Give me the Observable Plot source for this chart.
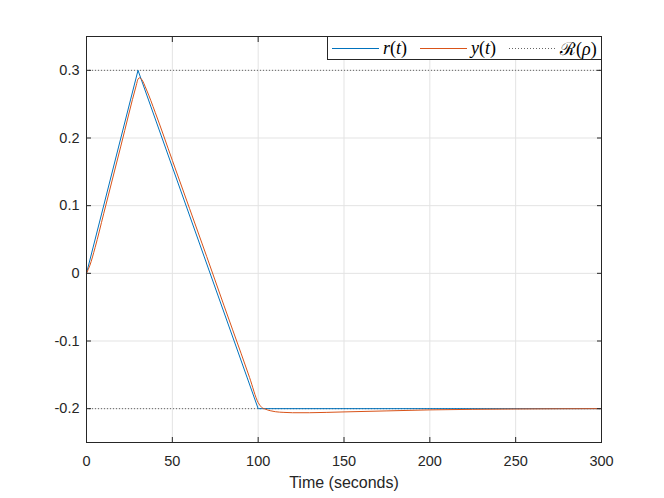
<!DOCTYPE html>
<html>
<head>
<meta charset="utf-8">
<script src="https://cdn.jsdelivr.net/npm/d3@7"></script>
<script src="https://cdn.jsdelivr.net/npm/@observablehq/plot@0.6"></script>
<style>
  html, body { margin: 0; padding: 0; background: #fff; }
  #wrap { position: relative; width: 664px; height: 498px; }
  #legend {
    position: absolute; left: 327px; top: 36px; width: 275px; height: 24px;
    border: 1px solid #262626; background: #fff; box-sizing: border-box;
    font-family: "Liberation Serif", "DejaVu Serif", serif; font-size: 18px; color: #000;
  }
  #legend .item { position: absolute; top: 0; height: 22px; display: flex; align-items: center; white-space: nowrap; }
  #legend svg { display: block; flex: none; }
  #legend .lbl { margin-left: 4px; white-space: nowrap; flex: none; }
</style>
</head>
<body>
<div id="wrap"></div>
<script>
// Reference r(t)
const rTime = [0, 30, 100, 300];
const rValue = [0, 0.3, -0.2, -0.2];
// Output y(t)
const yTime = [0, 2, 5, 10, 20, 29, 30, 31, 32, 35, 40, 50, 60, 70, 80, 90, 95, 100, 101, 102, 104, 107, 110, 115, 120, 130, 140, 150, 175, 200, 225, 250, 300];
const yValue = [0, 0.012, 0.038, 0.088, 0.188, 0.278, 0.287, 0.289, 0.287, 0.271, 0.238, 0.167, 0.096, 0.025, -0.047, -0.118, -0.154, -0.191, -0.195, -0.198, -0.2005, -0.203, -0.2045, -0.2055, -0.206, -0.206, -0.2055, -0.2048, -0.2033, -0.2018, -0.201, -0.2005, -0.2];
// Bounds R(rho)
const bounds = [0.3, -0.2];
const xTicks = [0, 50, 100, 150, 200, 250, 300];
const yTicks = [-0.2, -0.1, 0, 0.1, 0.2, 0.3];
const legendLabels = ["<i>r</i>(<i>t</i>)", "<i>y</i>(<i>t</i>)", "ℛ(<i>ρ</i>)"];

const rData = rTime.map((t, i) => ({t, v: rValue[i]}));
const yData = yTime.map((t, i) => ({t, v: yValue[i]}));

const blue = "#0072BD", orange = "#D95319", ink = "#262626", grid = "#e3e3e3";
const tickFmt = d => d === 0 ? "0" : String(d);

const chart = Plot.plot({
  width: 664, height: 498,
  marginLeft: 86, marginRight: 63, marginTop: 36, marginBottom: 56,
  style: {fontFamily: "'Liberation Sans', Arial, sans-serif", fontSize: "14.5px", color: ink, background: "#fff"},
  x: {domain: [0, 300]},
  y: {domain: [-0.25, 0.35]},
  marks: [
    Plot.gridX(xTicks, {stroke: grid, strokeOpacity: 1}),
    Plot.gridY(yTicks, {stroke: grid, strokeOpacity: 1}),
    Plot.ruleY(bounds, {stroke: "#666", strokeDasharray: "1,2", strokeWidth: 1}),
    Plot.line(rData, {x: "t", y: "v", stroke: blue, strokeWidth: 1}),
    Plot.line(yData, {x: "t", y: "v", stroke: orange, strokeWidth: 1, curve: "monotone-x"}),
    Plot.axisX(xTicks, {anchor: "bottom", tickSize: -5, tickPadding: 18, stroke: ink, color: ink, tickFormat: tickFmt, label: null, fontSize: 14.5}),
    Plot.axisX(xTicks, {anchor: "top", tickSize: -5, tickFormat: () => "", label: null, stroke: ink}),
    Plot.axisY(yTicks, {anchor: "left", tickSize: -5, tickPadding: 12, stroke: ink, color: ink, tickFormat: tickFmt, label: null, fontSize: 14.5}),
    Plot.axisY(yTicks, {anchor: "right", tickSize: -5, tickFormat: () => "", label: null, stroke: ink}),
    Plot.frame({stroke: ink, strokeWidth: 1}),
    Plot.text(["Time (seconds)"], {frameAnchor: "bottom", dy: 40, fill: ink, fontSize: 16, lineAnchor: "middle"})
  ]
});
const wrap = document.getElementById("wrap");
wrap.appendChild(chart);

// Legend
const legend = document.createElement("div");
legend.id = "legend";
const items = [
  {left: 4, color: blue, dash: null, label: legendLabels[0]},
  {left: 92, color: orange, dash: null, label: legendLabels[1]},
  {left: 181, color: "#666", dash: "1,2", label: legendLabels[2]}
];
for (const it of items) {
  const d = document.createElement("div");
  d.className = "item";
  d.style.left = it.left + "px";
  d.innerHTML = `<svg width="47" height="22"><line x1="0" x2="47" y1="11.5" y2="11.5" stroke="${it.color}" stroke-width="1" ${it.dash ? `stroke-dasharray="${it.dash}"` : ""}/></svg><span class="lbl">${it.label}</span>`;
  legend.appendChild(d);
}
wrap.appendChild(legend);
</script>
</body>
</html>
